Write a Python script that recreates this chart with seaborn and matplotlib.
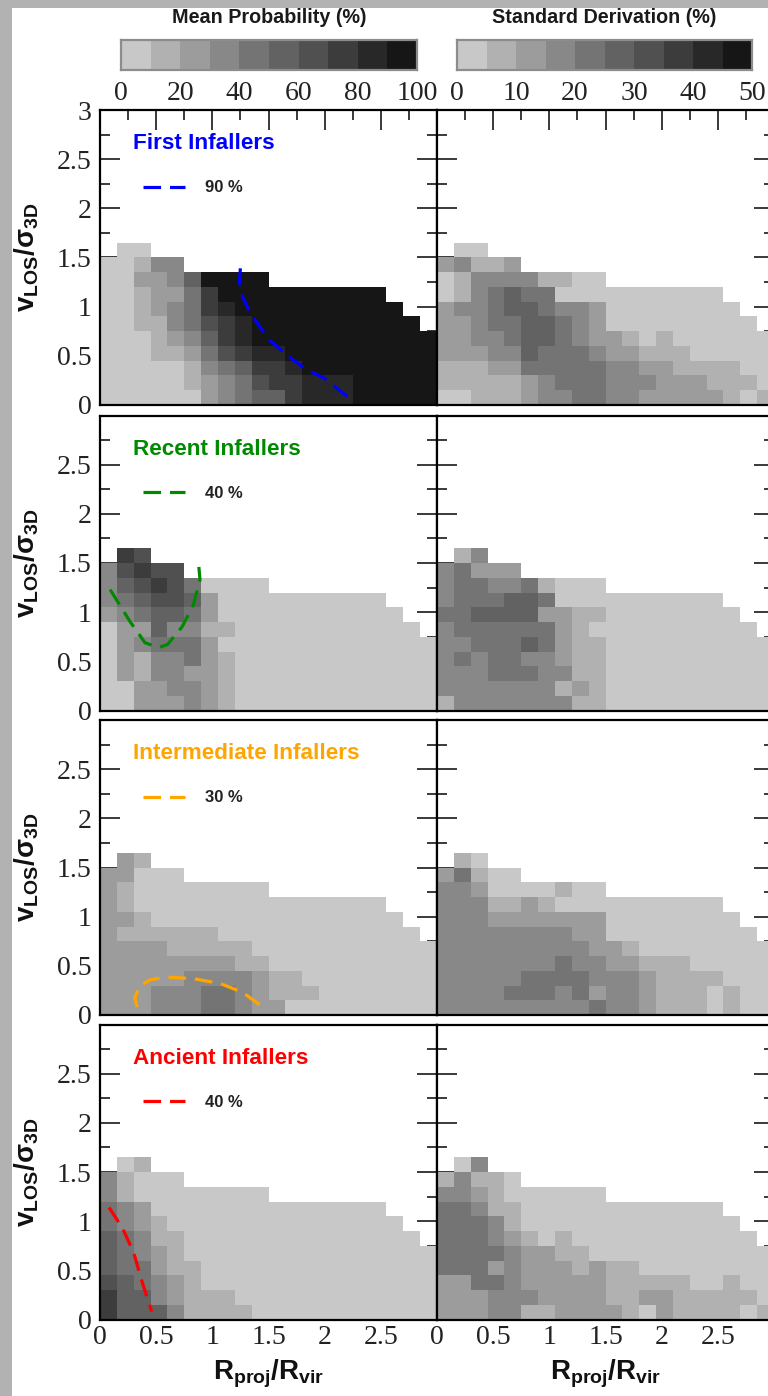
import numpy as np
import matplotlib
matplotlib.use("Agg")
import matplotlib.pyplot as plt
import seaborn as sns
from matplotlib.colors import ListedColormap
from matplotlib.patches import Rectangle
from matplotlib.transforms import Affine2D

NA = np.nan

# grey levels of the colour bars, light to dark
greys = ["#c8c8c8", "#b1b1b1", "#9c9c9c", "#888888", "#747474",
         "#626262", "#505050", "#3c3c3c", "#282828", "#161616"]
mean_bar = [5, 15, 25, 35, 45, 55, 65, 75, 85, 95]
std_bar = [2.5, 7.5, 12.5, 17.5, 22.5, 27.5, 32.5, 37.5, 42.5, 47.5]
mean_bar_labels = ["0", "20", "40", "60", "80", "100"]
std_bar_labels = ["0", "10", "20", "30", "40", "50"]

# rows run from the top of the histogram (v = 1.5-1.65) down to v = 0-0.15
first_mean = [
    [NA, 5, 5],
    [5, 5, 15, 35, 35],
    [5, 5, 25, 25, 35, 55, 95, 95, 95, 95],
    [5, 5, 15, 25, 25, 45, 75, 95, 95, 95, 95, 95, 95, 95, 95, 95, 95],
    [5, 5, 15, 25, 35, 45, 75, 85, 95, 95, 95, 95, 95, 95, 95, 95, 95, 95],
    [5, 5, 15, 15, 35, 45, 65, 75, 85, 95, 95, 95, 95, 95, 95, 95, 95, 95, 95],
    [5, 5, 5, 15, 25, 35, 55, 75, 85, 95, 95, 95, 95, 95, 95, 95, 95, 95, 95, 95],
    [5, 5, 5, 15, 15, 25, 45, 65, 75, 85, 85, 95, 95, 95, 95, 95, 95, 95, 95, 95],
    [5, 5, 5, 5, 5, 15, 35, 45, 55, 75, 75, 85, 95, 95, 95, 95, 95, 95, 95, 95],
    [5, 5, 5, 5, 5, 15, 25, 35, 45, 65, 75, 75, 85, 85, 85, 95, 95, 95, 95, 95],
    [5, 5, 5, 5, 5, 5, 25, 35, 45, 55, 55, 75, 85, 85, 85, 95, 95, 95, 95, 95],
]
first_std = [
    [NA, 2, 2],
    [12, 17, 7, 7, 12],
    [2, 7, 17, 17, 17, 17, 7, 7, 2, 2],
    [2, 7, 17, 22, 27, 22, 22, 2, 2, 2, 2, 2, 2, 2, 2, 2, 2],
    [12, 17, 17, 22, 27, 27, 22, 17, 17, 12, 2, 2, 2, 2, 2, 2, 2, 2],
    [12, 12, 17, 22, 22, 27, 27, 22, 17, 12, 2, 2, 2, 2, 2, 2, 2, 2, 2],
    [12, 12, 17, 17, 22, 27, 27, 22, 17, 12, 12, 7, 2, 7, 2, 2, 2, 2, 2, 2],
    [12, 12, 12, 17, 17, 27, 22, 22, 22, 17, 12, 12, 7, 7, 7, 2, 2, 2, 2, 2],
    [7, 7, 7, 12, 12, 22, 22, 22, 22, 22, 17, 17, 12, 12, 7, 7, 7, 7, 2, 2],
    [7, 7, 7, 7, 7, 12, 17, 22, 22, 22, 17, 17, 17, 12, 12, 12, 7, 7, 7, 2],
    [2, 2, 7, 7, 7, 12, 17, 17, 22, 22, 17, 17, 12, 12, 12, 12, 12, 7, 2, 7],
]
recent_mean = [
    [NA, 75, 65],
    [35, 65, 75, 65, 65],
    [35, 55, 65, 75, 65, 45, 5, 5, 5, 5],
    [35, 45, 55, 65, 65, 55, 25, 5, 5, 5, 5, 5, 5, 5, 5, 5, 5],
    [25, 35, 45, 55, 55, 45, 25, 5, 5, 5, 5, 5, 5, 5, 5, 5, 5, 5],
    [5, 25, 25, 55, 35, 35, 15, 15, 5, 5, 5, 5, 5, 5, 5, 5, 5, 5, 5],
    [5, 25, 35, 45, 45, 45, 25, 5, 5, 5, 5, 5, 5, 5, 5, 5, 5, 5, 5, 5],
    [5, 25, 15, 35, 35, 45, 25, 15, 5, 5, 5, 5, 5, 5, 5, 5, 5, 5, 5, 5],
    [5, 25, 15, 35, 35, 25, 25, 15, 5, 5, 5, 5, 5, 5, 5, 5, 5, 5, 5, 5],
    [5, 5, 25, 25, 35, 35, 25, 15, 5, 5, 5, 5, 5, 5, 5, 5, 5, 5, 5, 5],
    [5, 5, 25, 25, 25, 35, 25, 15, 5, 5, 5, 5, 5, 5, 5, 5, 5, 5, 5, 5],
]
recent_std = [
    [NA, 7, 17],
    [17, 22, 12, 12, 12],
    [17, 22, 22, 17, 17, 22, 7, 2, 2, 2],
    [17, 22, 22, 22, 27, 27, 22, 2, 2, 2, 2, 2, 2, 2, 2, 2, 2],
    [22, 22, 27, 27, 27, 27, 12, 12, 7, 7, 2, 2, 2, 2, 2, 2, 2, 2],
    [17, 22, 22, 22, 22, 22, 22, 12, 7, 2, 2, 2, 2, 2, 2, 2, 2, 2, 2],
    [17, 17, 22, 22, 22, 27, 22, 12, 7, 7, 2, 2, 2, 2, 2, 2, 2, 2, 2, 2],
    [17, 22, 17, 22, 22, 17, 17, 12, 7, 7, 2, 2, 2, 2, 2, 2, 2, 2, 2, 2],
    [17, 17, 17, 22, 22, 22, 17, 17, 7, 7, 2, 2, 2, 2, 2, 2, 2, 2, 2, 2],
    [17, 17, 17, 17, 17, 17, 17, 7, 12, 7, 2, 2, 2, 2, 2, 2, 2, 2, 2, 2],
    [7, 17, 17, 17, 17, 17, 17, 17, 7, 7, 2, 2, 2, 2, 2, 2, 2, 2, 2, 2],
]
inter_mean = [
    [NA, 25, 15],
    [25, 25, 5, 5, 5],
    [25, 15, 5, 5, 5, 5, 5, 5, 5, 5],
    [25, 15, 5, 5, 5, 5, 5, 5, 5, 5, 5, 5, 5, 5, 5, 5, 5],
    [25, 25, 15, 5, 5, 5, 5, 5, 5, 5, 5, 5, 5, 5, 5, 5, 5, 5],
    [25, 15, 15, 15, 15, 15, 15, 5, 5, 5, 5, 5, 5, 5, 5, 5, 5, 5, 5],
    [25, 25, 25, 25, 15, 15, 15, 15, 15, 5, 5, 5, 5, 5, 5, 5, 5, 5, 5, 5],
    [25, 25, 25, 25, 25, 25, 25, 25, 15, 15, 5, 5, 5, 5, 5, 5, 5, 5, 5, 5],
    [25, 25, 25, 25, 25, 35, 35, 35, 35, 25, 15, 15, 5, 5, 5, 5, 5, 5, 5, 5],
    [25, 25, 25, 35, 35, 35, 45, 45, 35, 25, 15, 15, 15, 5, 5, 5, 5, 5, 5, 5],
    [25, 25, 25, 35, 35, 35, 45, 45, 35, 25, 25, 5, 5, 5, 5, 5, 5, 5, 5, 5],
]
inter_std = [
    [NA, 7, 2],
    [12, 20, 7, 2, 2],
    [17, 17, 12, 2, 2, 2, 2, 7, 2, 2],
    [17, 17, 17, 7, 7, 12, 7, 2, 2, 2, 2, 2, 2, 2, 2, 2, 2],
    [17, 17, 17, 12, 12, 12, 12, 12, 12, 12, 2, 2, 2, 2, 2, 2, 2, 2],
    [17, 17, 17, 17, 17, 17, 17, 17, 12, 12, 2, 2, 2, 2, 2, 2, 2, 2, 2],
    [17, 17, 17, 17, 17, 17, 17, 17, 17, 12, 12, 7, 2, 2, 2, 2, 2, 2, 2, 2],
    [17, 17, 17, 17, 17, 17, 17, 22, 17, 17, 12, 12, 7, 7, 7, 2, 2, 2, 2, 2],
    [17, 17, 17, 17, 17, 22, 22, 22, 22, 15, 17, 17, 12, 7, 7, 7, 7, 2, 2, 2],
    [17, 17, 17, 17, 22, 22, 22, 17, 22, 12, 17, 17, 12, 7, 7, 7, 2, 7, 2, 2],
    [17, 17, 17, 17, 17, 17, 17, 17, 17, 22, 17, 17, 12, 7, 7, 7, 2, 7, 2, 2],
]
ancient_mean = [
    [NA, 5, 15],
    [35, 15, 5, 5, 5],
    [35, 15, 5, 5, 5, 5, 5, 5, 5, 5],
    [45, 35, 25, 5, 5, 5, 5, 5, 5, 5, 5, 5, 5, 5, 5, 5, 5],
    [45, 35, 25, 15, 5, 5, 5, 5, 5, 5, 5, 5, 5, 5, 5, 5, 5, 5],
    [55, 45, 35, 15, 15, 5, 5, 5, 5, 5, 5, 5, 5, 5, 5, 5, 5, 5, 5],
    [55, 45, 35, 25, 15, 5, 5, 5, 5, 5, 5, 5, 5, 5, 5, 5, 5, 5, 5, 5],
    [55, 45, 45, 25, 15, 15, 5, 5, 5, 5, 5, 5, 5, 5, 5, 5, 5, 5, 5, 5],
    [65, 55, 45, 35, 25, 15, 5, 5, 5, 5, 5, 5, 5, 5, 5, 5, 5, 5, 5, 5],
    [75, 55, 55, 35, 25, 15, 15, 15, 5, 5, 5, 5, 5, 5, 5, 5, 5, 5, 5, 5],
    [75, 55, 55, 55, 35, 15, 15, 15, 15, 5, 5, 5, 5, 5, 5, 5, 5, 5, 5, 5],
]
ancient_std = [
    [NA, 2, 17],
    [7, 17, 7, 7, 2],
    [17, 17, 12, 7, 2, 2, 2, 2, 2, 2],
    [22, 22, 17, 7, 7, 2, 2, 2, 2, 2, 2, 2, 2, 2, 2, 2, 2],
    [22, 22, 22, 17, 7, 2, 2, 2, 2, 2, 2, 2, 2, 2, 2, 2, 2, 2],
    [22, 22, 22, 17, 12, 7, 2, 7, 2, 2, 2, 2, 2, 2, 2, 2, 2, 2, 2],
    [22, 22, 22, 22, 17, 12, 12, 7, 7, 2, 2, 2, 2, 2, 2, 2, 2, 2, 2, 2],
    [22, 22, 22, 10, 17, 12, 12, 12, 7, 12, 7, 7, 2, 2, 2, 2, 2, 2, 2, 2],
    [12, 12, 22, 22, 17, 12, 12, 12, 12, 12, 7, 7, 7, 7, 7, 2, 2, 7, 2, 2],
    [12, 12, 12, 17, 17, 17, 12, 12, 12, 12, 7, 7, 12, 12, 7, 7, 7, 7, 7, 2],
    [12, 12, 12, 17, 17, 7, 7, 12, 12, 12, 12, 7, 2, 12, 7, 7, 7, 7, 2, 7],
]

# probability contours
first_r = [1.25, 1.24, 1.27, 1.33, 1.42, 1.51, 1.67, 1.84, 2.0, 2.12, 2.21]
first_v = [1.39, 1.25, 1.1, 0.95, 0.8, 0.66, 0.5, 0.36, 0.27, 0.16, 0.08]
recent_r = [0.09, 0.27, 0.4, 0.52, 0.6, 0.73, 0.83, 0.89, 0.88]
recent_v = [1.23, 0.9, 0.69, 0.64, 0.67, 0.85, 1.07, 1.33, 1.46]
inter_r = [0.33, 0.31, 0.36, 0.45, 0.6, 0.83, 1.07, 1.27, 1.45]
inter_v = [0.08, 0.18, 0.3, 0.36, 0.385, 0.37, 0.32, 0.23, 0.08]
ancient_r = [0.08, 0.2, 0.3, 0.37, 0.46]
ancient_v = [1.14, 0.93, 0.68, 0.4, 0.08]

panels = [
    ("First Infallers", "#0000ff", "90 %", first_mean, first_std, first_r, first_v),
    ("Recent Infallers", "#008a00", "40 %", recent_mean, recent_std, recent_r, recent_v),
    ("Intermediate Infallers", "#ffa500", "30 %", inter_mean, inter_std, inter_r, inter_v),
    ("Ancient Infallers", "#ff0000", "40 %", ancient_mean, ancient_std, ancient_r, ancient_v),
]

W, H = 768, 1396
SANS = "Liberation Sans"
sns.set_theme(style="white")
plt.rcParams["font.family"] = "Liberation Serif"
plt.rcParams["mathtext.fontset"] = "custom"
plt.rcParams["mathtext.bf"] = "Liberation Sans:bold"
plt.rcParams["mathtext.rm"] = "Liberation Sans:bold"
plt.rcParams["mathtext.default"] = "bf"

cmap = ListedColormap(greys)
CELL = 0.15
N_COLS = 20
N_ROWS = 20
TICK_SIZE = 20


def px_axes(fig, left, top, right, bottom):
    return fig.add_axes([left / W, 1 - bottom / H, (right - left) / W, (bottom - top) / H])


def to_grid(rows):
    grid = np.full((N_ROWS, N_COLS), np.nan)
    for i, row in enumerate(rows[::-1]):
        grid[i, :len(row)] = row
    return grid


def draw_panel(ax, rows, vmax, first_row, last_row, right_col):
    sns.heatmap(to_grid(rows), ax=ax, cmap=cmap, vmin=0, vmax=vmax, cbar=False,
                xticklabels=False, yticklabels=False)
    ax.collections[0].set_transform(Affine2D().scale(CELL) + ax.transData)
    ax.set_xlim(0, 3)
    ax.set_ylim(0, 3)
    ax.set_facecolor("white")
    for s in ax.spines.values():
        s.set_visible(True)
        s.set_color("black")
        s.set_linewidth(1.6)
    ax.set_xticks([0, 0.5, 1, 1.5, 2, 2.5, 3])
    ax.set_xticks([0.25, 0.75, 1.25, 1.75, 2.25, 2.75], minor=True)
    ax.set_yticks([0, 0.5, 1, 1.5, 2, 2.5, 3])
    ax.set_yticks([0.25, 0.75, 1.25, 1.75, 2.25, 2.75], minor=True)
    ax.tick_params(which="both", direction="in", left=True, right=True, bottom=True,
                   top=first_row, colors="#2a2a2a", labelcolor="#222222", labelsize=TICK_SIZE)
    ax.tick_params(which="major", length=14.5, width=1.3)
    ax.tick_params(which="minor", length=7.2, width=1.3)
    ax.tick_params(axis="x", which="major", pad=4)
    ax.tick_params(axis="y", which="major", pad=6)
    if last_row:
        if right_col:
            ax.set_xticklabels(["0", "0.5", "1", "1.5", "2", "2.5", "3"])
        else:
            ax.set_xticklabels(["0", "0.5", "1", "1.5", "2", "2.5", ""])
        ax.set_xlabel(r"$\mathbf{R_{proj}/R_{vir}}$", fontsize=20, color="#111111")
        ax.xaxis.set_label_coords(0.5, -0.13)
    else:
        ax.set_xticklabels([])
    if right_col:
        ax.set_yticklabels([])
    else:
        top_label = "3" if first_row else ""
        ax.set_yticklabels(["0", "0.5", "1", "1.5", "2", "2.5", top_label])
        ax.set_ylabel(r"$\mathbf{v_{LOS}/}\sigma_{\mathbf{3D}}$", fontsize=20, color="#111111")
        ax.yaxis.set_label_coords(-0.175, 0.5)


def draw_bar(ax, values, vmax, labels, title):
    sns.heatmap(np.array([values]), ax=ax, cmap=cmap, vmin=0, vmax=vmax, cbar=False,
                xticklabels=False, yticklabels=False)
    for s in ax.spines.values():
        s.set_visible(True)
        s.set_color("#8c8c8c")
        s.set_linewidth(1.6)
    ax.set_xticks(np.linspace(0, 10, len(labels)))
    ax.set_xticklabels(labels)
    ax.tick_params(axis="x", length=0, bottom=True, pad=8, labelsize=TICK_SIZE, labelcolor="#222222")
    ax.set_title(title, family=SANS, fontweight="bold", fontsize=14.2, color="#1a1a1a", pad=12)


fig = plt.figure(figsize=(W / 100, H / 100), dpi=100, facecolor="#b2b2b2")
fig.add_artist(Rectangle((12 / W, 0), 1 - 12 / W, 1 - 8 / H, transform=fig.transFigure,
                         facecolor="white", edgecolor="none", zorder=-5))

draw_bar(px_axes(fig, 121, 40, 417, 70), mean_bar, 100, mean_bar_labels, "Mean Probability (%)")
draw_bar(px_axes(fig, 457, 40, 752, 70), std_bar, 50, std_bar_labels, "Standard Derivation (%)")

tops = [110, 415.5, 720, 1024.5]
for i, (name, color, level, mean_rows, std_rows, r, v) in enumerate(panels):
    top = tops[i]
    first_row = i == 0
    last_row = i == len(panels) - 1
    ax_mean = px_axes(fig, 100, top, 437, top + 295)
    ax_std = px_axes(fig, 437, top, 774, top + 295)
    draw_panel(ax_mean, mean_rows, 100, first_row, last_row, False)
    draw_panel(ax_std, std_rows, 50, first_row, last_row, True)
    ax_mean.plot(r, v, color=color, linewidth=2.3, dashes=(5.5, 2.8), label=level)
    ax_mean.text(0.098, 0.885, name, transform=ax_mean.transAxes, family=SANS,
                 fontweight="bold", fontsize=16.2, color=color, va="center")
    leg = ax_mean.legend(loc="center left", bbox_to_anchor=(0.128, 0.736), frameon=False,
                         borderpad=0, borderaxespad=0, handlelength=2.5, handletextpad=1.2,
                         prop={"family": SANS, "weight": "bold", "size": 12})
    for t in leg.get_texts():
        t.set_color("#222222")

fig.savefig("out.png", dpi=100, facecolor=fig.get_facecolor())
